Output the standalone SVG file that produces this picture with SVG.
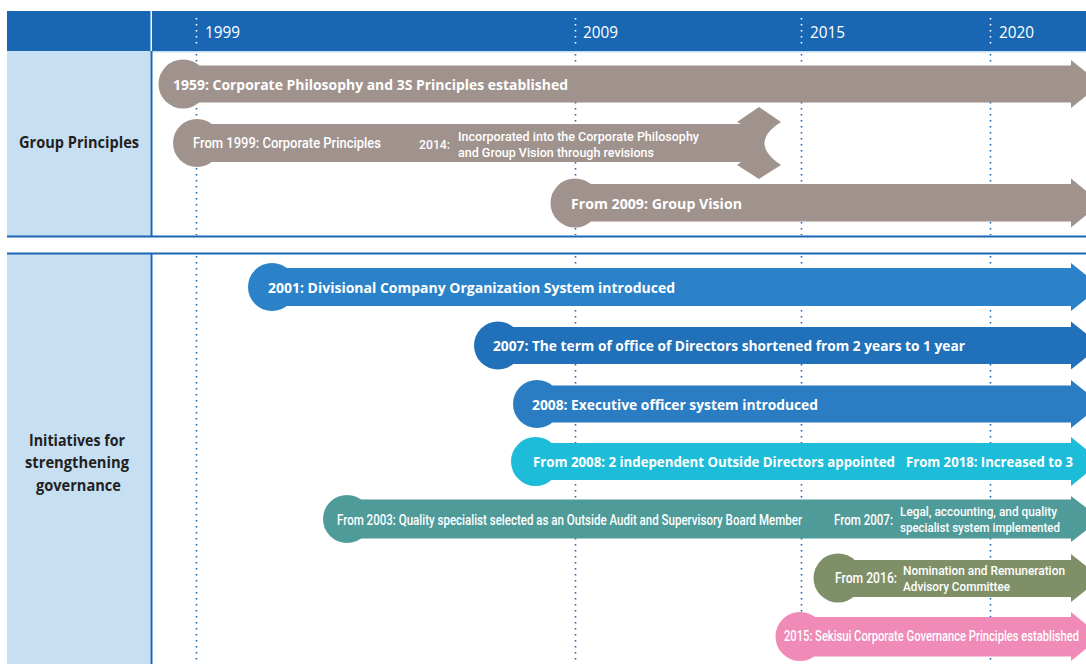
<svg xmlns="http://www.w3.org/2000/svg" width="1086" height="664" viewBox="0 0 1086 664">
<style>
.hdr{fill:#1967b3}
.col{fill:#c7dff2}
.rule{stroke:#1967b3;stroke-width:2;fill:none}
.dot{stroke:#1967b3;stroke-width:1.6;stroke-dasharray:1.4 4.6;fill:none}
.wdot{stroke:#fff;stroke-width:1.6;stroke-dasharray:1.4 4.6;fill:none}
.yr{font-family:"Open Sans",sans-serif;font-size:17px;fill:#fff}
.lbl{font-family:"Open Sans",sans-serif;font-weight:700;font-size:16px;fill:#231f20}
.b{font-family:"Open Sans",sans-serif;font-weight:700;font-size:15px;fill:#fff}
.c{font-family:"Roboto",sans-serif;font-weight:500;font-size:14px;fill:#fff}
.c2{font-family:"Roboto",sans-serif;font-weight:500;font-size:13.5px;fill:#fff}
.gray{fill:#a0938e}
.blue1{fill:#2b82c8}
.blue2{fill:#2071ba}
.blue3{fill:#2a7dc3}
.cyan{fill:#1dbdd9}
.teal{fill:#4f9b9a}
.olive{fill:#7f9068}
.pink{fill:#ef8bb6}
</style>

<g id="frame">
<rect class="hdr" x="7" y="11" width="1079" height="40"/>
<rect x="150.5" y="11" width="1.5" height="40" fill="#fff"/>
<rect x="7" y="51" width="1079" height="1.5" fill="#c7dff2"/>
<rect class="col" x="7" y="51" width="143.5" height="185"/>
<rect class="col" x="7" y="253" width="143.5" height="411"/>
<line class="rule" x1="151.5" y1="51" x2="151.5" y2="237"/>
<line class="rule" x1="7" y1="236.5" x2="1086" y2="236.5"/>
<line class="rule" x1="7" y1="253.5" x2="1086" y2="253.5"/>
<line class="rule" x1="151.5" y1="253" x2="151.5" y2="664"/>
</g>

<g id="grid">
<line class="wdot" x1="196.5" y1="18" x2="196.5" y2="46"/>
<line class="wdot" x1="575.5" y1="18" x2="575.5" y2="46"/>
<line class="wdot" x1="801.5" y1="18" x2="801.5" y2="46"/>
<line class="wdot" x1="990.5" y1="18" x2="990.5" y2="46"/>
<line class="dot" x1="196.5" y1="54" x2="196.5" y2="235"/>
<line class="dot" x1="575.5" y1="54" x2="575.5" y2="235"/>
<line class="dot" x1="801.5" y1="54" x2="801.5" y2="235"/>
<line class="dot" x1="990.5" y1="54" x2="990.5" y2="235"/>
<line class="dot" x1="196.5" y1="256" x2="196.5" y2="664"/>
<line class="dot" x1="575.5" y1="256" x2="575.5" y2="664"/>
<line class="dot" x1="801.5" y1="256" x2="801.5" y2="664"/>
<line class="dot" x1="990.5" y1="256" x2="990.5" y2="664"/>
</g>

<g id="years">
<text class="yr" x="205" y="38" textLength="35" lengthAdjust="spacingAndGlyphs">1999</text>
<text class="yr" x="583" y="38" textLength="35" lengthAdjust="spacingAndGlyphs">2009</text>
<text class="yr" x="810" y="38" textLength="35" lengthAdjust="spacingAndGlyphs">2015</text>
<text class="yr" x="999" y="38" textLength="35" lengthAdjust="spacingAndGlyphs">2020</text>
</g>

<g id="label-group-principles">
<text class="lbl" x="19" y="148" textLength="120" lengthAdjust="spacingAndGlyphs">Group Principles</text>
</g>
<g id="label-initiatives">
<text class="lbl" x="29" y="446" textLength="96" lengthAdjust="spacingAndGlyphs">Initiatives for</text>
<text class="lbl" x="25" y="468" textLength="104" lengthAdjust="spacingAndGlyphs">strengthening</text>
<text class="lbl" x="36" y="491" textLength="85" lengthAdjust="spacingAndGlyphs">governance</text>
</g>

<g id="connectors"></g>

<g id="n1959">
<circle class="gray" cx="183" cy="84" r="24.5"/>
<path class="gray" d="M183,65.5 H1071 V60 L1101,84 L1071,108 V102.5 H183 Z"/>
<text class="b" x="173" y="89.5" textLength="395" lengthAdjust="spacingAndGlyphs">1959: Corporate Philosophy and 3S Principles established</text>
</g>

<g id="n1999">
<circle class="gray" cx="197" cy="143" r="24"/>
<path class="gray" d="M197,124 H741 L737,122 L759,107 L781,122 Q748,143 781,165 L759,179 L737,165 L741,162 H197 Z"/>
<text class="c" x="193" y="148" textLength="188" lengthAdjust="spacingAndGlyphs">From 1999: Corporate Principles</text>
<text class="c2" x="419" y="149" textLength="31" lengthAdjust="spacingAndGlyphs">2014:</text>
<text class="c2" x="458" y="140.5" textLength="241" lengthAdjust="spacingAndGlyphs">Incorporated into the Corporate Philosophy</text>
<text class="c2" x="458" y="156.5" textLength="196" lengthAdjust="spacingAndGlyphs">and Group Vision through revisions</text>
</g>

<g id="n2009">
<circle class="gray" cx="575" cy="203" r="24.5"/>
<path class="gray" d="M575,184 H1071 V178.5 L1101,203 L1071,227.5 V221.5 H575 Z"/>
<text class="b" x="571" y="208.5" textLength="171" lengthAdjust="spacingAndGlyphs">From 2009: Group Vision</text>
</g>

<g id="n2001">
<circle class="blue1" cx="272" cy="287" r="24"/>
<path class="blue1" d="M272,268 H1071 V263 L1101,287 L1071,311 V306 H272 Z"/>
<text class="b" x="268" y="292.5" textLength="407" lengthAdjust="spacingAndGlyphs">2001: Divisional Company Organization System introduced</text>
</g>

<g id="n2007">
<circle class="blue2" cx="498" cy="345.5" r="24"/>
<path class="blue2" d="M498,327 H1071 V321.5 L1101,345.5 L1071,369.5 V364 H498 Z"/>
<text class="b" x="493" y="351" textLength="472" lengthAdjust="spacingAndGlyphs">2007: The term of office of Directors shortened from 2 years to 1 year</text>
</g>

<g id="n2008a">
<circle class="blue3" cx="537" cy="404" r="24"/>
<path class="blue3" d="M537,385.5 H1071 V380 L1101,404 L1071,428 V422.5 H537 Z"/>
<text class="b" x="532" y="409.5" textLength="286" lengthAdjust="spacingAndGlyphs">2008: Executive officer system introduced</text>
</g>

<g id="n2008b">
<circle class="cyan" cx="535.5" cy="461.5" r="24.5"/>
<path class="cyan" d="M535,443 H1071 V437 L1101,461.5 L1071,486 V480 H535 Z"/>
<text class="b" x="533" y="467" textLength="362" lengthAdjust="spacingAndGlyphs">From 2008: 2 independent Outside Directors appointed</text>
<text class="b" x="906" y="467" textLength="167" lengthAdjust="spacingAndGlyphs">From 2018: Increased to 3</text>
</g>

<g id="n2003">
<circle class="teal" cx="347" cy="519" r="24"/>
<path class="teal" d="M347,499.5 H1071 V496 L1101,519 L1071,542 V538.5 H347 Z"/>
<text class="c" x="337" y="524.5" textLength="465" lengthAdjust="spacingAndGlyphs">From 2003: Quality specialist selected as an Outside Audit and Supervisory Board Member</text>
<text class="c" x="834" y="525" textLength="59" lengthAdjust="spacingAndGlyphs">From 2007:</text>
<text class="c2" x="900" y="516" textLength="157" lengthAdjust="spacingAndGlyphs">Legal, accounting, and quality</text>
<text class="c2" x="900" y="531.5" textLength="160" lengthAdjust="spacingAndGlyphs">specialist system implemented</text>
</g>

<g id="n2016">
<circle class="olive" cx="838" cy="578" r="24.5"/>
<path class="olive" d="M838,560 H1071 V554 L1101,578 L1071,602 V597 H838 Z"/>
<text class="c" x="835" y="582.5" textLength="62" lengthAdjust="spacingAndGlyphs">From 2016:</text>
<text class="c2" x="903" y="574.5" textLength="162" lengthAdjust="spacingAndGlyphs">Nomination and Remuneration</text>
<text class="c2" x="903" y="590.5" textLength="107" lengthAdjust="spacingAndGlyphs">Advisory Committee</text>
</g>

<g id="n2015">
<circle class="pink" cx="800" cy="636.5" r="24.5"/>
<path class="pink" d="M800,617 H1071 V612 L1101,636.5 L1071,661 V656.5 H800 Z"/>
<text class="c" x="784" y="641" textLength="295" lengthAdjust="spacingAndGlyphs">2015: Sekisui Corporate Governance Principles established</text>
</g>
</svg>
